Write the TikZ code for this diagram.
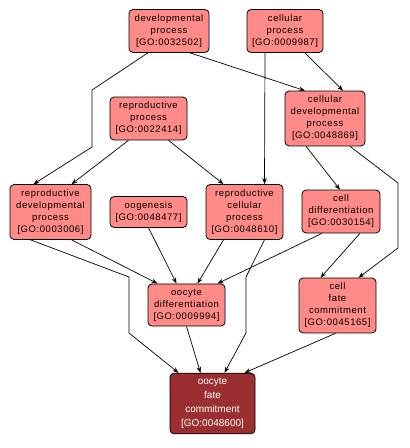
\documentclass[tikz,border=0pt]{standalone}
\usepackage{fontspec}
\setmainfont{Liberation Sans}
\newfontfamily\termfont[LetterSpace=6]{Liberation Sans}
\usetikzlibrary{arrows.meta}
\definecolor{termfill}{HTML}{FF8A87}
\definecolor{hitfill}{HTML}{9A2E30}
\begin{document}
\begin{tikzpicture}[
		x=1pt, y=1pt,
		every node/.style={align=center},
		term/.style={draw, line width=0.8pt, rounded corners=4pt, fill=termfill, minimum width=77pt,
			inner ysep=5pt, font=\termfont\fontsize{9.5}{12}\selectfont},
		hit/.style={draw, line width=0.8pt, rounded corners=4pt, fill=hitfill, text=white, minimum width=85pt,
			inner ysep=5pt, font=\fontsize{10}{14}\selectfont},
		edge/.style={line width=0.7pt, -{Stealth[length=6pt,width=4.5pt]}}
	]
		\useasboundingbox (0,0) rectangle (410,-448);

		% terms
		\node[term, minimum width=80pt] (dev) at (169,-31) {developmental\\process\\{[GO:0032502]}};
		\node[term, minimum width=76pt] (cell) at (285,-31) {cellular\\process\\{[GO:0009987]}};
		\node[term, minimum width=80pt] (celldev) at (325,-118.5) {cellular\\developmental\\process\\{[GO:0048869]}};
		\node[term] (repro) at (148.5,-118.5) {reproductive\\process\\{[GO:0022414]}};
		\node[term, minimum width=81pt] (rdp) at (50.5,-212) {reproductive\\developmental\\process\\{[GO:0003006]}};
		\node[term] (oog) at (148.5,-212) {oogenesis\\{[GO:0048477]}};
		\node[term] (rcp) at (244.5,-212) {reproductive\\cellular\\process\\{[GO:0048610]}};
		\node[term, minimum width=78pt] (cdiff) at (341,-211.5) {cell\\differentiation\\{[GO:0030154]}};
		\node[term] (odiff) at (186.5,-305) {oocyte\\differentiation\\{[GO:0009994]}};
		\node[term] (cfc) at (337.5,-305.5) {cell\\fate\\commitment\\{[GO:0045165]}};
		\node[hit] (ofc) at (212.5,-403.5) {oocyte\\fate\\commitment\\{[GO:0048600]}};

		% is_a links
		\draw[edge] ([xshift=21]dev.south) -- ([xshift=-20]celldev.north);
		\draw[edge] ([xshift=20]cell.south) -- ([xshift=18]celldev.north);
		\draw[edge] ([xshift=-20]cell.south) -- ([xshift=20]rcp.north);
		\draw[edge] ([xshift=-21]dev.south) -- (92,-90) -- (92,-147) -- ([xshift=-17]rdp.north);
		\draw[edge] ([xshift=-20]repro.south) -- ([xshift=21]rdp.north);
		\draw[edge] ([xshift=20]repro.south) -- ([xshift=-21]rcp.north);
		\draw[edge] ([xshift=-19]celldev.south) -- ([xshift=-1]cdiff.north);
		\draw[edge] ([xshift=25]celldev.south) -- (398,-183) -- (398,-248) -- ([xshift=21]cfc.north);
		\draw[edge] ([xshift=-20]rdp.south) -- (129,-277) -- (129,-333) -- ([xshift=-34]ofc.north);
		\draw[edge] ([xshift=21]rdp.south) -- ([xshift=-29]odiff.north);
		\draw[edge] (oog.south) -- ([xshift=-10]odiff.north);
		\draw[edge] ([xshift=-21]rcp.south) -- ([xshift=11]odiff.north);
		\draw[edge] ([xshift=20]rcp.south) -- (246,-277) -- (246,-333) -- ([xshift=12]ofc.north);
		\draw[edge] ([xshift=-19]cdiff.south) -- ([xshift=31]odiff.north);
		\draw[edge] ([xshift=19]cdiff.south) -- ([xshift=-17]cfc.north);
		\draw[edge] (odiff.south) -- ([xshift=-12]ofc.north);
		\draw[edge] ([xshift=-2]cfc.south) -- ([xshift=32]ofc.north);
	\end{tikzpicture}
\end{document}
